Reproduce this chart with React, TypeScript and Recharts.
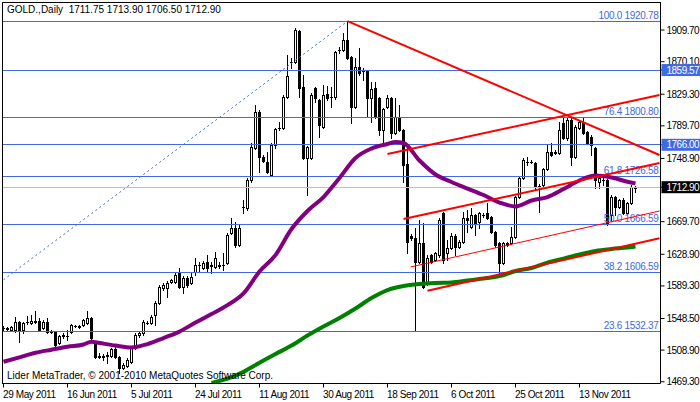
import React from 'react';
import { ComposedChart, Bar, Line, XAxis, YAxis, ReferenceLine } from 'recharts';

const FONT = "'Liberation Sans', Arial, sans-serif";
const CHART_W = 700;
const CHART_H = 402;

// bar index of each date label (6 bars a week, 4px per bar)
const dateTicks = [0, 16, 32, 48, 64, 80, 96, 112, 128, 144];
const dateLabels = [
  '29 May 2011', '16 Jun 2011', '5 Jul 2011', '24 Jul 2011', '11 Aug 2011',
  '30 Aug 2011', '18 Sep 2011', '6 Oct 2011', '25 Oct 2011', '13 Nov 2011',
];

const priceTicks = [1909.7, 1870.1, 1829.3, 1789.7, 1748.9, 1669.7, 1628.9, 1589.3, 1548.5, 1508.9, 1469.3];
// prices drawn in coloured boxes on the scale (drawn last so they sit on top)
const boxPrices = [1859.57, 1766.0, 1712.9];
const boxColors = ['#4169E1', '#4169E1', '#000000'];

const fibRatios = ['100.0', '76.4', '61.8', '50.0', '38.2', '23.6'];
const fibPrices = [1920.78, 1800.8, 1726.58, 1666.59, 1606.59, 1532.37];
const levelPrices = [1859.57, 1766.0];
const bidPrice = 1712.9;

const opens = [
  1536.5, 1536.5, 1534.0, 1534.0, 1544.1, 1534.0, 1544.1, 1542.8, 1545.3, 1545.3,
  1536.5, 1544.1, 1532.8, 1531.5, 1517.7, 1526.5, 1526.5, 1531.5, 1539.0, 1539.0,
  1540.3, 1542.8, 1549.1, 1517.7, 1501.5, 1500.2, 1501.5, 1501.5, 1510.3, 1500.2,
  1486.5, 1489.0, 1494.0, 1511.5, 1527.8, 1530.3, 1542.8, 1542.8, 1552.8, 1567.8,
  1586.6, 1586.6, 1594.1, 1594.1, 1605.4, 1587.9, 1599.1, 1592.9, 1606.7, 1615.4,
  1611.7, 1619.2, 1614.2, 1612.9, 1615.4, 1615.4, 1617.9, 1655.5, 1661.8, 1640.5,
  1688.1, 1686.8, 1721.9, 1761.9, 1807.0, 1750.7, 1744.4, 1728.1, 1765.7, 1787.0,
  1787.0, 1825.8, 1869.6, 1869.6, 1908.5, 1838.4, 1749.4, 1749.4, 1837.1, 1822.1,
  1788.3, 1829.6, 1825.8, 1825.8, 1884.7, 1884.7, 1897.2, 1875.9, 1813.3, 1863.4,
  1858.4, 1858.4, 1824.6, 1837.1, 1824.6, 1784.5, 1813.3, 1824.6, 1780.7, 1800.8,
  1784.5, 1741.9, 1651.8, 1649.2, 1619.2, 1643.0, 1594.1, 1628.0, 1621.7, 1628.0,
  1680.5, 1630.5, 1636.7, 1651.8, 1638.0, 1644.2, 1674.3, 1663.0, 1678.0, 1669.3,
  1678.0, 1680.5, 1675.6, 1656.8, 1643.0, 1617.9, 1643.0, 1643.0, 1650.5, 1700.6,
  1724.4, 1744.4, 1744.4, 1743.2, 1714.4, 1715.6, 1735.7, 1756.9, 1755.7, 1755.7,
  1793.3, 1774.5, 1797.0, 1750.7, 1787.0, 1794.5, 1782.0, 1775.7, 1762.0, 1719.4,
  1721.9, 1721.9, 1678.0, 1700.6, 1688.1, 1696.8, 1680.5, 1693.0, 1711.75,
];
const highs = [
  1539.0, 1537.8, 1539.0, 1550.3, 1545.3, 1544.1, 1551.6, 1552.8, 1557.8, 1549.1,
  1546.6, 1549.1, 1534.0, 1532.8, 1527.8, 1530.3, 1534.0, 1541.6, 1540.3, 1540.3,
  1547.8, 1557.8, 1550.3, 1519.0, 1505.2, 1504.0, 1506.5, 1511.5, 1512.8, 1501.5,
  1492.7, 1499.0, 1514.0, 1530.3, 1532.8, 1546.6, 1545.3, 1552.8, 1570.3, 1590.4,
  1592.9, 1595.4, 1597.9, 1605.4, 1611.7, 1601.6, 1601.6, 1605.4, 1624.2, 1619.2,
  1620.4, 1627.9, 1619.2, 1631.7, 1619.2, 1630.5, 1655.5, 1674.3, 1669.3, 1665.5,
  1696.8, 1724.4, 1768.2, 1815.8, 1809.5, 1753.2, 1756.9, 1768.2, 1787.0, 1794.5,
  1828.3, 1878.4, 1874.6, 1912.2, 1909.7, 1853.4, 1764.4, 1830.8, 1838.4, 1823.3,
  1840.9, 1839.6, 1838.4, 1883.4, 1888.4, 1906.0, 1920.8, 1877.1, 1874.6, 1887.2,
  1862.1, 1859.6, 1844.6, 1844.6, 1825.8, 1812.0, 1828.3, 1825.8, 1824.6, 1815.8,
  1785.8, 1765.7, 1654.3, 1661.8, 1671.8, 1668.1, 1628.0, 1629.2, 1631.7, 1674.3,
  1681.8, 1646.7, 1655.5, 1654.3, 1646.7, 1681.8, 1684.3, 1686.8, 1679.3, 1681.8,
  1680.5, 1693.0, 1676.8, 1658.0, 1644.2, 1644.2, 1644.2, 1663.0, 1701.8, 1725.7,
  1749.4, 1750.7, 1746.9, 1744.4, 1716.9, 1736.9, 1767.0, 1768.2, 1759.4, 1794.5,
  1799.5, 1800.8, 1799.5, 1790.8, 1797.0, 1799.5, 1783.2, 1778.2, 1763.2, 1725.7,
  1728.1, 1723.2, 1703.0, 1701.8, 1698.1, 1699.3, 1694.3, 1715.6, 1713.9,
];
const lows = [
  1534.0, 1534.0, 1532.8, 1531.5, 1519.0, 1530.3, 1541.6, 1541.6, 1542.8, 1532.8,
  1535.2, 1530.3, 1530.3, 1514.5, 1516.5, 1524.0, 1521.5, 1530.3, 1537.8, 1536.5,
  1539.0, 1541.6, 1519.0, 1499.0, 1499.0, 1496.5, 1492.7, 1500.2, 1499.0, 1480.2,
  1485.2, 1487.7, 1492.7, 1510.3, 1525.2, 1527.8, 1541.6, 1541.6, 1540.3, 1566.6,
  1584.1, 1575.3, 1592.9, 1592.9, 1586.6, 1580.3, 1587.9, 1591.6, 1602.9, 1606.7,
  1610.4, 1606.7, 1605.4, 1611.7, 1611.7, 1609.2, 1616.7, 1654.2, 1638.0, 1639.2,
  1680.5, 1684.3, 1719.4, 1760.7, 1731.9, 1744.4, 1730.6, 1726.9, 1762.0, 1784.5,
  1785.8, 1824.6, 1862.1, 1868.4, 1825.8, 1748.0, 1703.0, 1748.2, 1819.6, 1775.7,
  1787.0, 1822.1, 1813.3, 1823.3, 1880.9, 1883.4, 1873.4, 1793.3, 1812.0, 1853.4,
  1847.1, 1800.8, 1794.5, 1799.5, 1778.2, 1768.2, 1812.0, 1774.5, 1779.5, 1783.2,
  1719.4, 1630.5, 1646.7, 1532.4, 1617.9, 1586.6, 1590.4, 1617.9, 1620.4, 1625.5,
  1617.9, 1621.7, 1635.5, 1628.0, 1636.7, 1643.0, 1656.8, 1661.8, 1653.0, 1661.8,
  1675.6, 1673.0, 1655.5, 1638.0, 1605.4, 1616.7, 1639.2, 1641.7, 1649.2, 1699.3,
  1723.2, 1740.7, 1743.2, 1709.3, 1681.8, 1714.4, 1734.4, 1751.9, 1754.4, 1754.4,
  1773.2, 1772.0, 1740.7, 1749.4, 1785.8, 1779.5, 1767.0, 1753.2, 1711.8, 1711.8,
  1715.6, 1665.5, 1671.8, 1678.0, 1686.8, 1679.3, 1679.3, 1691.8, 1706.5,
];
const closes = [
  1536.0, 1535.2, 1537.8, 1544.1, 1534.0, 1542.8, 1543.6, 1545.3, 1544.1, 1534.0,
  1544.1, 1531.5, 1531.5, 1515.2, 1526.5, 1527.8, 1527.0, 1540.3, 1539.5, 1537.8,
  1546.6, 1549.1, 1524.0, 1500.2, 1500.2, 1501.5, 1502.7, 1510.3, 1500.2, 1486.5,
  1490.2, 1496.5, 1511.5, 1527.8, 1530.3, 1544.1, 1543.3, 1550.3, 1567.8, 1587.9,
  1590.4, 1592.9, 1596.6, 1602.9, 1587.9, 1599.1, 1590.4, 1600.4, 1615.4, 1615.9,
  1617.9, 1611.7, 1615.4, 1624.2, 1614.2, 1615.0, 1653.0, 1661.8, 1640.5, 1661.8,
  1688.6, 1721.9, 1763.2, 1807.0, 1750.7, 1745.7, 1731.9, 1765.7, 1785.8, 1787.5,
  1825.8, 1852.1, 1870.1, 1909.7, 1837.1, 1749.4, 1763.2, 1828.3, 1824.6, 1790.8,
  1828.3, 1824.6, 1826.3, 1882.2, 1884.2, 1897.2, 1874.6, 1813.3, 1863.4, 1855.9,
  1858.9, 1824.6, 1835.8, 1800.8, 1784.5, 1810.8, 1824.6, 1780.7, 1800.8, 1784.5,
  1740.7, 1644.2, 1649.2, 1619.2, 1643.0, 1587.9, 1624.2, 1619.2, 1630.5, 1671.8,
  1621.7, 1636.7, 1651.8, 1638.0, 1644.2, 1674.3, 1671.8, 1678.0, 1668.0, 1680.5,
  1678.5, 1674.3, 1656.8, 1640.5, 1617.9, 1643.0, 1640.5, 1650.5, 1700.6, 1724.4,
  1746.9, 1744.9, 1743.9, 1714.4, 1714.9, 1735.7, 1756.9, 1753.2, 1756.9, 1784.5,
  1774.5, 1797.0, 1750.7, 1788.3, 1794.5, 1780.7, 1768.2, 1765.7, 1721.9, 1724.4,
  1721.4, 1668.0, 1700.6, 1688.1, 1696.8, 1680.5, 1693.0, 1713.1, 1712.9,
];

// moving averages, read at every 4th bar
const purpleAt = [0, 4, 8, 12, 16, 20, 22, 24, 28, 32, 36, 40, 44, 48, 52, 56, 60, 64, 68, 72, 76, 80, 84, 88, 92, 96, 98, 100, 104, 108, 112, 116, 120, 124, 128, 132, 136, 140, 144, 148, 152, 156, 158];
const purpleVals = [1494.4, 1499.9, 1505.6, 1509.4, 1513.1, 1515.9, 1519.4, 1517.8, 1514.6, 1512.2, 1516.5, 1524.0, 1532.1, 1543.4, 1554.1, 1565.3, 1579.9, 1607.3, 1627.9, 1660.5, 1683.1, 1700.6, 1724.4, 1749.4, 1761.3, 1767.0, 1769.5, 1768.2, 1746.3, 1728.8, 1719.4, 1711.2, 1703.1, 1693.7, 1688.7, 1696.2, 1700.6, 1710.6, 1721.3, 1727.5, 1725.0, 1719.7, 1717.7];
const greenAt = [52, 56, 60, 64, 68, 72, 76, 80, 84, 88, 92, 96, 100, 104, 108, 112, 116, 120, 124, 128, 132, 136, 140, 144, 148, 152, 156, 158];
const greenVals = [1467.7, 1473.1, 1481.7, 1493.1, 1504.0, 1514.6, 1527.1, 1538.4, 1549.1, 1561.0, 1574.1, 1584.1, 1589.1, 1591.6, 1592.9, 1593.5, 1596.0, 1598.5, 1601.6, 1607.9, 1611.7, 1618.5, 1623.5, 1628.6, 1633.0, 1635.5, 1637.3, 1638.6];

// trend lines: [bar index, price]
const trendStart = [[86, 1920.8], [96, 1754.4], [100, 1673.0], [101.75, 1613.0], [106, 1583.2]];
const trendEnd = [[164, 1753.2], [164, 1828.3], [164, 1743.2], [164, 1683.1], [164, 1648.9]];
const trendWidth = [2, 2, 2, 1, 2];
const fibLineStart = [0, 1597.0];
const fibLineEnd = [86, 1920.8];

const data = opens.map((o, i) => ({
  i,
  o,
  h: highs[i],
  l: lows[i],
  c: closes[i],
  range: [lows[i], highs[i]],
  purple: null as number | null,
  green: null as number | null,
}));
purpleAt.forEach((k, j) => { data[k].purple = purpleVals[j]; });
greenAt.forEach((k, j) => { data[k].green = greenVals[j]; });

const Candle = (props: any) => {
  const { x, y, width, height, payload } = props;
  if (x == null || !payload) return null;
  const top = Math.min(y, y + height);
  const span = Math.abs(height);
  const { o, h, l, c } = payload;
  const py = (p: number) => Math.round(h === l ? top : top + ((h - p) / (h - l)) * span);
  const cx = Math.round(x + width / 2 - 0.5) + 0.5;
  const yh = py(h);
  const yl = py(l);
  const bt = py(Math.max(o, c));
  const bb = py(Math.min(o, c));
  const bull = c >= o;
  return (
    <g shapeRendering="crispEdges">
      <rect x={cx - 0.5} y={yh} width={1} height={yl - yh + 1} fill="#000" />
      <rect x={cx - 1.5} y={bt} width={3} height={bb - bt + 1} fill="#000" />
      {bull && bb - bt - 1 > 0 && (
        <rect x={cx - 0.5} y={bt + 1} width={1} height={bb - bt - 1} fill="#fff" />
      )}
    </g>
  );
};

const PriceTick = (props: any) => {
  const { x, y, payload } = props;
  const v = payload.value as number;
  const k = boxPrices.indexOf(v);
  if (k >= 0) {
    return (
      <g>
        <rect x={x - 5} y={y - 6} width={40} height={12} fill={boxColors[k]} />
        <text x={x} y={y + 3.5} fill="#fff" fontSize={10} letterSpacing={-0.5} fontFamily={FONT}>{v.toFixed(2)}</text>
      </g>
    );
  }
  return (
    <text x={x} y={y + 3.5} fill="#000" fontSize={10} letterSpacing={-0.5} fontFamily={FONT}>{v.toFixed(2)}</text>
  );
};

const DateTick = (props: any) => {
  const { x, y, payload } = props;
  const k = dateTicks.indexOf(payload.value);
  return (
    <text x={x - 0.5} y={y + 8} fill="#000" fontSize={10} letterSpacing={-0.4} fontFamily={FONT}>{dateLabels[k]}</text>
  );
};

const fibLabel = (text: string) => (p: any) => {
  const vb = p.viewBox;
  if (!vb) return null;
  return (
    <text x={vb.x + vb.width - 2} y={vb.y - 2.5} textAnchor="end" fill="#4169E1" fontSize={10} letterSpacing={-0.3} fontFamily={FONT}>
      {text}
    </text>
  );
};

export default function App() {
  return (
    <div style={{ position: 'absolute', left: 0, top: 0, width: CHART_W, height: CHART_H, background: '#fff', fontFamily: FONT }}>
      <ComposedChart width={CHART_W} height={CHART_H} data={data} margin={{ top: 2, right: 0, left: 2, bottom: 0 }}>
        <XAxis
          type="number"
          dataKey="i"
          domain={[-0.375, 164.25]}
          allowDataOverflow
          ticks={dateTicks}
          interval={0}
          tick={<DateTick />}
          tickSize={4}
          tickLine={{ stroke: '#000' }}
          axisLine={{ stroke: '#000' }}
          height={18.5}
        />
        <YAxis
          orientation="right"
          type="number"
          domain={[1467.1, 1944.8]}
          allowDataOverflow
          ticks={[...priceTicks, ...boxPrices]}
          interval={0}
          tick={<PriceTick />}
          tickSize={4}
          tickLine={{ stroke: '#000' }}
          axisLine={{ stroke: '#000' }}
          width={39.5}
        />
        {fibPrices.map((p, k) => (
          <ReferenceLine
            key={'fib' + k}
            y={p}
            stroke="#4169E1"
            strokeWidth={1}
            shapeRendering="crispEdges"
            label={fibLabel(fibRatios[k] + ' ' + p.toFixed(2))}
          />
        ))}
        {levelPrices.map((p, k) => (
          <ReferenceLine key={'lvl' + k} y={p} stroke="#4169E1" strokeWidth={1} shapeRendering="crispEdges" />
        ))}
        <ReferenceLine y={bidPrice} stroke="#C0C0C0" strokeWidth={1} shapeRendering="crispEdges" />
        <ReferenceLine
          segment={[{ x: fibLineStart[0], y: fibLineStart[1] }, { x: fibLineEnd[0], y: fibLineEnd[1] }]}
          stroke="#4169E1"
          strokeWidth={1}
          strokeDasharray="2 3"
          ifOverflow="visible"
        />
        <Bar dataKey="range" barSize={3} shape={<Candle />} isAnimationActive={false} />
        <Line
          dataKey="purple"
          type="monotone"
          stroke="#800080"
          strokeWidth={4}
          dot={false}
          activeDot={false}
          connectNulls
          isAnimationActive={false}
        />
        <Line
          dataKey="green"
          type="monotone"
          stroke="#008000"
          strokeWidth={4}
          dot={false}
          activeDot={false}
          connectNulls
          isAnimationActive={false}
        />
        {trendStart.map((s, k) => (
          <ReferenceLine
            key={'tr' + k}
            segment={[{ x: s[0], y: s[1] }, { x: trendEnd[k][0], y: trendEnd[k][1] }]}
            stroke="#FF0000"
            strokeWidth={trendWidth[k]}
            ifOverflow="visible"
          />
        ))}
      </ComposedChart>
      <div style={{ position: 'absolute', left: 2, top: 2, width: 1, height: 381, background: '#000' }} />
      <div style={{ position: 'absolute', left: 2, top: 2, width: 658, height: 1, background: '#000' }} />
      <div style={{ position: 'absolute', left: 7, top: 4, fontSize: 10, lineHeight: '12px', whiteSpace: 'pre', color: '#000' }}>
        {'GOLD.,Daily  1711.75 1713.90 1706.50 1712.90'}
      </div>
      <div style={{ position: 'absolute', left: 7, top: 370, fontSize: 10, lineHeight: '12px', whiteSpace: 'pre', color: '#000' }}>
        {'Lider MetaTrader, © 2001-2010 MetaQuotes Software Corp.'}
      </div>
    </div>
  );
}
